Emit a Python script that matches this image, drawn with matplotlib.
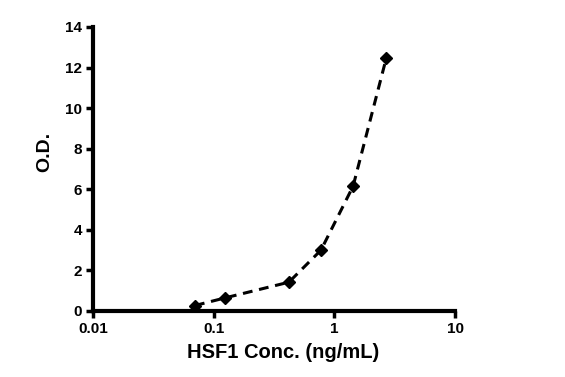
import matplotlib
matplotlib.use("Agg")
import matplotlib.pyplot as plt
from matplotlib.ticker import FixedLocator, NullLocator, FixedFormatter

conc = [0.070, 0.125, 0.42, 0.775, 1.43, 2.69]
od = [0.27, 0.65, 1.42, 3.0, 6.15, 12.45]
xticks = [0.01, 0.1, 1, 10]
xticklabels = ["0.01", "0.1", "1", "10"]
yticks = [0, 2, 4, 6, 8, 10, 12, 14]

plt.rcParams['font.family'] = ['Liberation Sans', 'DejaVu Sans']
fig = plt.figure(figsize=(5.65, 3.77), dpi=100)
ax = fig.add_axes([93/565, 1-311/377, (455-93)/565, (311-27)/377])
ax.plot(conc, od, color='black', linestyle=(0, (3.2, 2.2)), linewidth=2.2,
        marker='D', markersize=6.5, markerfacecolor='black', markeredgecolor='black')
ax.set_xscale('log')
ax.set_xlim(0.01, 10)
ax.set_ylim(0, 14)
ax.xaxis.set_major_locator(FixedLocator(xticks))
ax.xaxis.set_major_formatter(FixedFormatter(xticklabels))
ax.xaxis.set_minor_locator(NullLocator())
ax.set_yticks(yticks)
for s in ['top', 'right']:
    ax.spines[s].set_visible(False)
for s in ['left', 'bottom']:
    ax.spines[s].set_linewidth(3)
ax.tick_params(axis='both', direction='out', width=2.5, length=5, labelsize=11, pad=3)
for lab in ax.get_xticklabels() + ax.get_yticklabels():
    lab.set_fontweight('bold')
ax.set_xlabel('HSF1 Conc. (ng/mL)', fontsize=14.5, fontweight='bold', va='top')
ax.xaxis.set_label_coords(0.525, -0.112)
ax.set_ylabel('O.D.', fontsize=14, fontweight='bold', va='center')
ax.yaxis.set_label_coords(-0.133, 0.56)
fig.savefig('out.png', dpi=100)
